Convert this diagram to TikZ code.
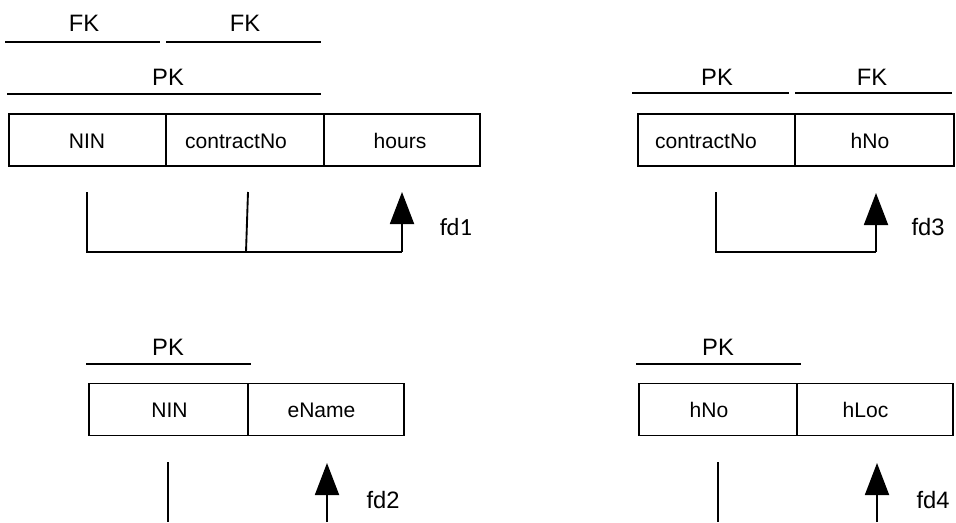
\documentclass[tikz,border=0pt]{standalone}
\usepackage{fontspec}
\setmainfont{Liberation Sans}
\newfontfamily\fdfont{Carlito}
\usetikzlibrary{arrows.meta}
\begin{document}
\begin{tikzpicture}[x=0.75pt,y=-0.75pt,
  cell/.style={draw,line width=1.3pt,rectangle,inner sep=0pt,minimum height=39pt},
  celltext/.style={inner sep=0pt,font=\fontsize{15.8}{18}\selectfont},
  keylabel/.style={inner sep=0pt,font=\fontsize{17.8}{20}\selectfont},
  keyline/.style={line width=1.3pt},
  fdlabel/.style={inner sep=0pt,font=\fontsize{17.8}{20}\selectfont},
  depline/.style={line width=1.4pt},
  deparrow/.style={line width=1.4pt,-{Triangle[width=18pt,length=24pt]}}]
\useasboundingbox (0,0) rectangle (956,522);

% ---- Works(NIN, contractNo, hours)
\node[cell,minimum width=117.5pt] (w1) at (87.6,140) {};
\node[cell,minimum width=118.5pt] (w2) at (245,140) {};
\node[cell,minimum width=117pt] (w3) at (402,140) {};
\node[celltext] (w1t) at (87,141) {NIN};
\node[celltext] (w2t) at (236,141) {contractNo};
\node[celltext] (w3t) at (400,141) {hours};
\node[keylabel] (wfk1) at (84,23) {FK};
\node[keylabel] (wfk2) at (245,23) {FK};
\node[keylabel] (wpk) at (168,77) {PK};
\draw[keyline] (5,42) -- (160,42);
\draw[keyline] (166,42) -- (321,42);
\draw[keyline] (7,94) -- (321,94);
\coordinate (w1d) at (87,192);
\coordinate (w2d) at (248,192);
\coordinate (w3d) at (402,192);
\draw[depline] (w1d) -- (87,252) -- (402,252);
\draw[depline] (w2d) -- (246,252);
\draw[deparrow] (402,252) -- (w3d);
\node[fdlabel,font=\fdfont\fontsize{18.5}{20}\selectfont] (fd1) at (456,227) {fd1};

% ---- Contract(contractNo, hNo)
\node[cell,minimum width=118pt] (c1) at (716.5,140) {};
\node[cell,minimum width=119pt] (c2) at (874.5,140) {};
\node[celltext] (c1t) at (706,141) {contractNo};
\node[celltext] (c2t) at (870,141) {hNo};
\node[keylabel] (cpk) at (717,77) {PK};
\node[keylabel] (cfk) at (872,77) {FK};
\draw[keyline] (632,93) -- (789,93);
\draw[keyline] (795,93) -- (952,93);
\coordinate (c1d) at (716,192);
\coordinate (c2d) at (876,193);
\draw[depline] (c1d) -- (716,252) -- (876,252);
\draw[deparrow] (876,252) -- (c2d);
\node[fdlabel] (fd3) at (928,227) {fd3};

% ---- Employee(NIN, eName)
\node[cell,minimum width=119pt] (e1) at (168.5,409.5) {};
\node[cell,minimum width=117pt] (e2) at (326,409.5) {};
\node[celltext] (e1t) at (169.5,410) {NIN};
\node[celltext] (e2t) at (321.5,410) {eName};
\node[keylabel] (epk) at (168,347) {PK};
\draw[keyline] (86,364) -- (251,364);
\coordinate (e1d) at (168,462);
\coordinate (e1b) at (168,522);
\coordinate (e2d) at (327,463);
\coordinate (e2b) at (327,522);
\draw[depline] (e1d) -- (e1b);
\draw[deparrow] (e2b) -- (e2d);
\node[fdlabel] (fd2) at (383,500) {fd2};

% ---- Hotel(hNo, hLoc)
\node[cell,minimum width=118.5pt] (h1) at (718,409.5) {};
\node[cell,minimum width=117pt] (h2) at (875,409.5) {};
\node[celltext] (h1t) at (709,410) {hNo};
\node[celltext] (h2t) at (865.5,410) {hLoc};
\node[keylabel] (hpk) at (718,347) {PK};
\draw[keyline] (636,364) -- (801,364);
\coordinate (h1d) at (718,462);
\coordinate (h1b) at (718,522);
\coordinate (h2d) at (877,463);
\coordinate (h2b) at (877,522);
\draw[depline] (h1d) -- (h1b);
\draw[deparrow] (h2b) -- (h2d);
\node[fdlabel] (fd4) at (933,500) {fd4};
\end{tikzpicture}
\end{document}
